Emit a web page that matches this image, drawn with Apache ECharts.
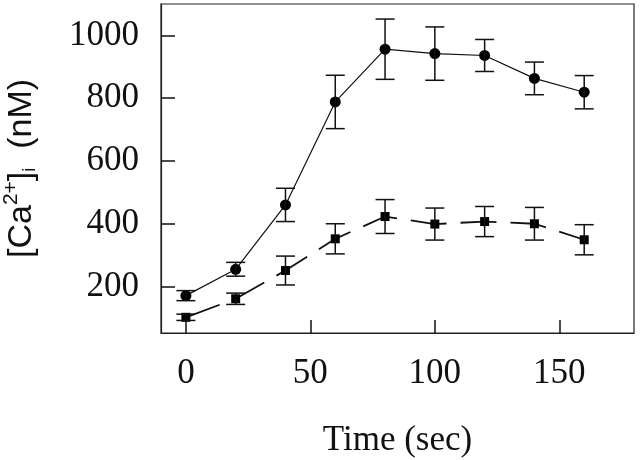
<!DOCTYPE html>
<html>
<head>
<meta charset="utf-8">
<script src="https://cdn.jsdelivr.net/npm/echarts@6/dist/echarts.min.js"></script>
<style>html,body{margin:0;padding:0;background:#fff}#c{width:640px;height:460px}</style>
</head>
<body>
<div id="c"></div>
<script>
const times = [0, 20, 40, 60, 80, 100, 120, 140, 160];
const circleMean = [171, 255, 460, 788, 956, 942, 936, 863, 819];
const circleErr = [16, 22, 53, 85, 96, 85, 51, 52, 53];
const squareMean = [102, 161, 251, 352, 423, 399, 407, 400, 349];
const squareErr = [10, 18, 46, 48, 54, 51, 48, 52, 48];
const xTicks = [0, 50, 100, 150];
const yTicks = [200, 400, 600, 800, 1000];

const chart = echarts.init(document.getElementById('c'), null, {renderer: 'canvas'});
const serif = 'Liberation Serif';

function errData(mean, err) {
  return times.map((t, i) => [t, mean[i], err[i]]);
}
function renderErr(params, api) {
  const x = api.value(0), m = api.value(1), e = api.value(2);
  const top = api.coord([x, m + e]);
  const bot = api.coord([x, m - e]);
  const hw = 9.5;
  const st = {stroke: '#111', lineWidth: 1.5};
  return {type: 'group', children: [
    {type: 'line', shape: {x1: top[0], y1: top[1], x2: bot[0], y2: bot[1]}, style: st},
    {type: 'line', shape: {x1: top[0] - hw, y1: top[1], x2: top[0] + hw, y2: top[1]}, style: st},
    {type: 'line', shape: {x1: bot[0] - hw, y1: bot[1], x2: bot[0] + hw, y2: bot[1]}, style: st}
  ]};
}

chart.setOption({
  animation: false,
  backgroundColor: '#fff',
  grid: {left: 161, right: 6, top: 4, bottom: 127, containLabel: false, outerBoundsMode: 'none',
         show: true, borderColor: '#222', borderWidth: 1.2},
  xAxis: {
    type: 'value', min: -10, max: 180,
    name: 'Time (sec)', nameLocation: 'middle', nameGap: 90,
    nameTextStyle: {fontFamily: serif, fontSize: 35, color: '#111'},
    axisLine: {show: true, onZero: false, lineStyle: {color: '#222', width: 1.2}},
    axisTick: {show: true, inside: true, length: 13, customValues: xTicks, lineStyle: {color: '#111', width: 1.5}},
    axisLabel: {customValues: xTicks, formatter: v => String(v), fontFamily: serif, fontSize: 35, color: '#111', margin: 23},
    splitLine: {show: false}
  },
  yAxis: {
    type: 'value', min: 52, max: 1100,
    name: '{b|[Ca}{sup|2+}{b|]}{sub|i}{b|  (nM)}', nameLocation: 'middle', nameGap: 116, nameRotate: 90,
    nameTextStyle: {
      color: '#111', lineHeight: 46,
      rich: {
        b: {fontFamily: 'Liberation Sans', fontSize: 34, color: '#111', lineHeight: 46},
        sup: {fontFamily: 'Liberation Sans', fontSize: 21, color: '#111', verticalAlign: 'top', lineHeight: 46, padding: [2, 0, 0, 0]},
        sub: {fontFamily: 'Liberation Sans', fontSize: 18, color: '#111', verticalAlign: 'bottom', lineHeight: 46, padding: [0, 0, 6, 0]}
      }
    },
    axisLine: {show: true, onZero: false, lineStyle: {color: '#222', width: 1.2}},
    axisTick: {show: true, inside: true, length: 14, customValues: yTicks, lineStyle: {color: '#111', width: 1.5}},
    axisLabel: {customValues: yTicks, formatter: v => String(v), fontFamily: serif, fontSize: 35, color: '#111', margin: 22},
    splitLine: {show: false}
  },
  series: [
    {
      type: 'line', data: times.map((t, i) => [t, circleMean[i]]),
      symbol: 'circle', symbolSize: 11, z: 3,
      lineStyle: {color: '#111', width: 1.2},
      itemStyle: {color: '#000'}
    },
    {
      type: 'line', data: times.map((t, i) => [t, squareMean[i]]),
      symbol: 'rect', symbolSize: 9, z: 3,
      lineStyle: {color: '#111', width: 1.8, type: [36, 14], dashOffset: 0},
      itemStyle: {color: '#000'}
    },
    {type: 'custom', renderItem: renderErr, data: errData(circleMean, circleErr), z: 4, encode: {x: 0, y: 1}},
    {type: 'custom', renderItem: renderErr, data: errData(squareMean, squareErr), z: 4, encode: {x: 0, y: 1}}
  ]
});
</script>
</body>
</html>
